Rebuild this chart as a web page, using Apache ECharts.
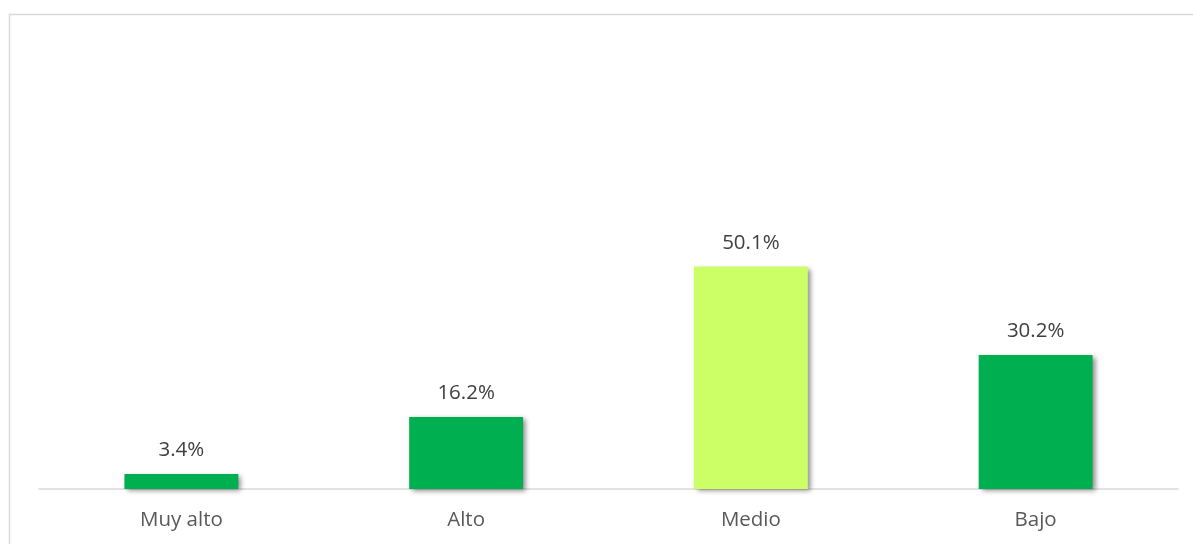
<!DOCTYPE html>
<html>
<head>
<meta charset="utf-8">
<style>
  html, body { margin: 0; padding: 0; background: #ffffff; }
  #chart { width: 1193px; height: 544px; }
</style>
<script src="https://cdn.jsdelivr.net/npm/echarts@6/dist/echarts.min.js"></script>
</head>
<body>
<div id="chart"></div>
<script>
// Distribution by level (percent)
const categories = ['Muy alto', 'Alto', 'Medio', 'Bajo'];
const values = [3.4, 16.2, 50.1, 30.2];
const barColors = ['#00B050', '#00B050', '#CCFF66', '#00B050'];

const chart = echarts.init(document.getElementById('chart'), null, { renderer: 'canvas' });

const textFont = '"Open Sans", "Liberation Sans", sans-serif';

chart.setOption({
  animation: false,
  backgroundColor: '#ffffff',
  graphic: [
    {
      type: 'polyline',
      silent: true,
      shape: { points: [[9.5, 560], [9.5, 14.5], [1200, 14.5]] },
      style: { stroke: '#D9D9D9', lineWidth: 1.5, fill: null }
    }
  ],
  grid: { left: 39, right: 15, top: 222.6, bottom: 55, containLabel: false },
  xAxis: {
    type: 'category',
    data: categories,
    axisLine: { show: true, lineStyle: { color: '#D9D9D9', width: 1.5 } },
    axisTick: { show: false },
    axisLabel: {
      color: '#595959',
      fontFamily: textFont,
      fontSize: 20.5,
      margin: 21
    },
    splitLine: { show: false }
  },
  yAxis: {
    type: 'value',
    min: 0,
    max: 60,
    show: false,
    splitLine: { show: false }
  },
  series: [
    {
      type: 'bar',
      barWidth: '40%',
      data: values.map((v, i) => ({
        value: v,
        itemStyle: { color: barColors[i] }
      })),
      itemStyle: {
        shadowColor: 'rgba(0,0,0,0.45)',
        shadowBlur: 5,
        shadowOffsetX: 3,
        shadowOffsetY: 2
      },
      label: {
        show: true,
        position: 'top',
        distance: 13,
        color: '#404040',
        fontFamily: textFont,
        fontSize: 20.5,
        formatter: p => p.value.toFixed(1) + '%'
      }
    }
  ]
});
</script>
</body>
</html>
